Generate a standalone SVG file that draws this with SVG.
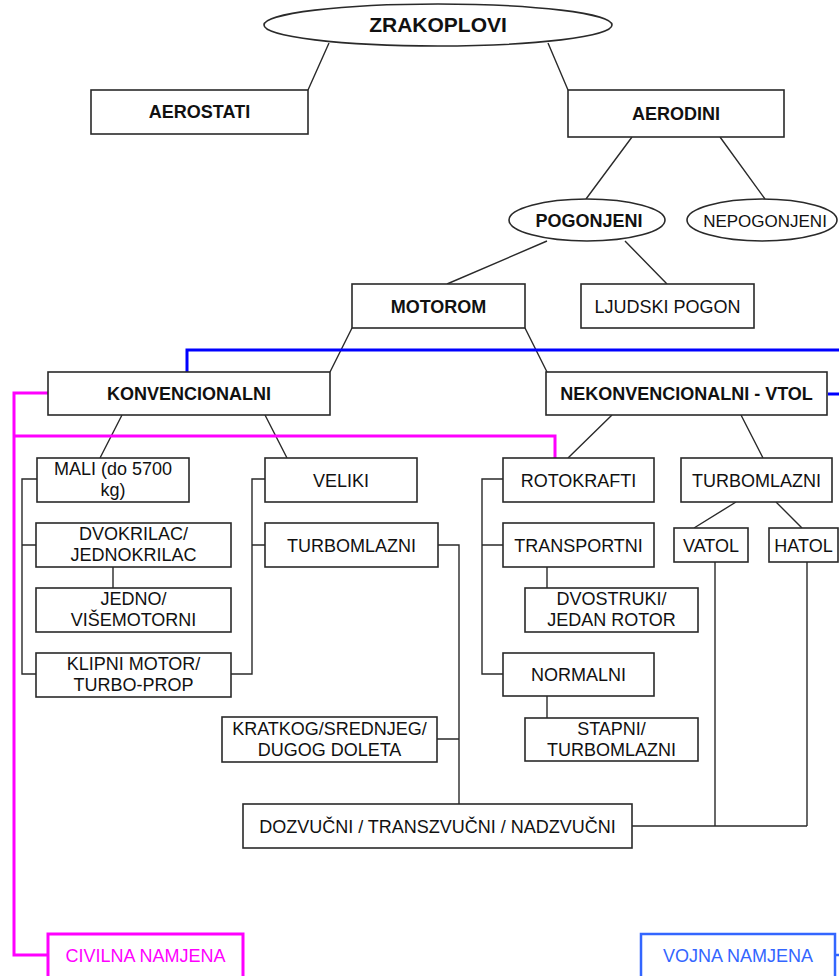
<svg xmlns="http://www.w3.org/2000/svg" width="839" height="976" viewBox="0 0 839 976">
<style>
.b{fill:#fff;stroke:#2a2a2a;stroke-width:1.6}
.t{font-family:"Liberation Sans",Arial,sans-serif;font-size:18px;fill:#111;text-anchor:middle}
.tb{font-weight:bold}
.c{fill:none;stroke:#2a2a2a;stroke-width:1.4}
.m{fill:none;stroke:#ff00ff;stroke-width:3}
.bl{fill:none;stroke:#0000ff;stroke-width:3}
</style>
<rect width="839" height="976" fill="#fff"/>
<g id="connectors">
<path class="c" d="M329,43 L308,90 M548,43 L568,90 M632,137 L586,199 M720,137 L765,199 M547,241 L447,284 M625,241 L667,284 M352,328 L330,372 M525,328 L547,372"/>
<path class="c" d="M122,415 L100,458 M265,415 L287,458 M612,415 L568,458 M741,415 L763,458"/>
<path class="c" d="M37,479 H22 V674 H36 M22,545 H36 M113,567 V588"/>
<path class="c" d="M265,479 H252 V674 H231 M252,545 H265"/>
<path class="c" d="M438,545 H459 V804 M437,739 H459"/>
<path class="c" d="M503,479 H482 V674 H503 M482,545 H503 M547,567 V588 M547,696 V718"/>
<path class="c" d="M736,502 L694,528 M776,502 L802,528"/>
<path class="c" d="M715,562 V826 M807,562 V826 M632,826 H807"/>
<path class="bl" d="M187,372 V350 H839 M828,394 H839"/>
<path class="m" d="M48,393 H14 V955 H48 M14,436 H555 V458"/>
<path d="M835,955 H839" stroke="#3366ff" stroke-width="2.5"/>
</g>
<g id="zrakoplovi"><ellipse class="b" cx="438" cy="25" rx="174" ry="21"/><text class="t tb" x="438" y="32" style="font-size:21px">ZRAKOPLOVI</text></g>
<g id="aerostati"><rect class="b" x="91" y="90" width="217" height="44"/><text class="t tb" x="199.5" y="118">AEROSTATI</text></g>
<g id="aerodini"><rect class="b" x="568" y="90" width="216" height="47"/><text class="t tb" x="676" y="120">AERODINI</text></g>
<g id="pogonjeni"><ellipse class="b" cx="587" cy="220" rx="78" ry="21"/><text class="t tb" x="589" y="227">POGONJENI</text></g>
<g id="nepogonjeni"><ellipse class="b" cx="762" cy="220" rx="75" ry="21"/><text class="t" x="765" y="227" style="font-size:17px">NEPOGONJENI</text></g>
<g id="motorom"><rect class="b" x="352" y="284" width="173" height="44"/><text class="t tb" x="438.5" y="313">MOTOROM</text></g>
<g id="ljudski"><rect class="b" x="581" y="284" width="173" height="44"/><text class="t" x="667.5" y="313">LJUDSKI POGON</text></g>
<g id="konvencionalni"><rect class="b" x="48" y="372" width="282" height="43"/><text class="t tb" x="189" y="400">KONVENCIONALNI</text></g>
<g id="nekonvencionalni"><rect class="b" x="546" y="372" width="281" height="43"/><text class="t tb" x="686.5" y="400">NEKONVENCIONALNI - VTOL</text></g>
<g id="mali"><rect class="b" x="37" y="458" width="152" height="44"/><text class="t" x="113" y="475">MALI (do 5700</text><text class="t" x="113" y="496">kg)</text></g>
<g id="veliki"><rect class="b" x="265" y="458" width="152" height="44"/><text class="t" x="341" y="486.5">VELIKI</text></g>
<g id="dvokrilac"><rect class="b" x="36" y="523" width="195" height="44"/><text class="t" x="133.5" y="540">DVOKRILAC/</text><text class="t" x="133.5" y="561">JEDNOKRILAC</text></g>
<g id="jedno"><rect class="b" x="36" y="588" width="195" height="44"/><text class="t" x="133.5" y="605">JEDNO/</text><text class="t" x="133.5" y="626">VIŠEMOTORNI</text></g>
<g id="klipni"><rect class="b" x="36" y="653" width="195" height="44"/><text class="t" x="133.5" y="670">KLIPNI MOTOR/</text><text class="t" x="133.5" y="691">TURBO-PROP</text></g>
<g id="turbomlazni1"><rect class="b" x="265" y="523" width="173" height="44"/><text class="t" x="351.5" y="551.5">TURBOMLAZNI</text></g>
<g id="kratkog"><rect class="b" x="222" y="717" width="215" height="45"/><text class="t" x="329.5" y="734.5">KRATKOG/SREDNJEG/</text><text class="t" x="329.5" y="755.5">DUGOG DOLETA</text></g>
<g id="dozvucni"><rect class="b" x="243" y="804" width="389" height="44"/><text class="t" x="437.5" y="832.5">DOZVUČNI / TRANSZVUČNI / NADZVUČNI</text></g>
<g id="rotokrafti"><rect class="b" x="503" y="458" width="151" height="44"/><text class="t" x="578.5" y="486.5">ROTOKRAFTI</text></g>
<g id="transportni"><rect class="b" x="503" y="523" width="151" height="44"/><text class="t" x="578.5" y="551.5">TRANSPORTNI</text></g>
<g id="dvostruki"><rect class="b" x="525" y="588" width="173" height="44"/><text class="t" x="611.5" y="605">DVOSTRUKI/</text><text class="t" x="611.5" y="626">JEDAN ROTOR</text></g>
<g id="normalni"><rect class="b" x="503" y="653" width="151" height="43"/><text class="t" x="578.5" y="681">NORMALNI</text></g>
<g id="stapni"><rect class="b" x="525" y="718" width="173" height="43"/><text class="t" x="611.5" y="734.5">STAPNI/</text><text class="t" x="611.5" y="755.5">TURBOMLAZNI</text></g>
<g id="turbomlazni2"><rect class="b" x="681" y="458" width="151" height="44"/><text class="t" x="756.5" y="486.5">TURBOMLAZNI</text></g>
<g id="vatol"><rect class="b" x="674" y="528" width="74" height="34"/><text class="t" x="711" y="551.5">VATOL</text></g>
<g id="hatol"><rect class="b" x="769" y="528" width="69" height="34"/><text class="t" x="803.5" y="551.5">HATOL</text></g>
<g id="civilna"><rect x="48" y="934" width="195" height="52" fill="#fff" stroke="#ff00ff" stroke-width="3"/><text class="t" x="145.5" y="962" style="fill:#ff00ff">CIVILNA NAMJENA</text></g>
<g id="vojna"><rect x="641" y="934" width="194" height="52" fill="#fff" stroke="#3366ff" stroke-width="2.5"/><text class="t" x="738" y="962" style="fill:#3366ff">VOJNA NAMJENA</text></g>
</svg>
